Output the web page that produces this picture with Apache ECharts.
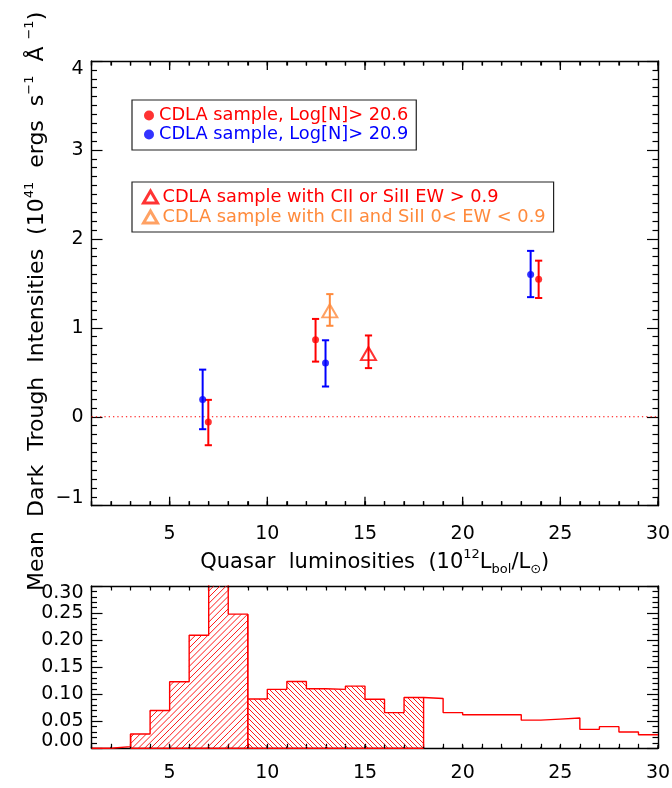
<!DOCTYPE html>
<html><head><meta charset="utf-8">
<script src="https://cdn.jsdelivr.net/npm/echarts@6/dist/echarts.min.js"></script>
<style>html,body{margin:0;padding:0;background:#fff}#c{width:672px;height:788px}</style>
</head><body><div id="c"></div>
<script>
const FONT = 'DejaVu Sans';
const RED = '#ff0000', BLUE = '#0000ff', ORANGE = '#ff8a3c';

// ---- top panel data ----
const S_RED = 'CDLA sample, Log[N]> 20.6';
const S_BLUE = 'CDLA sample, Log[N]> 20.9';
const S_TRI_RED = 'CDLA sample with CII or SiII EW > 0.9';
const S_TRI_OR = 'CDLA sample with CII and SiII 0< EW < 0.9';

const redLum  = [6.98, 12.47, 23.89];
const redMean = [-0.06, 0.865, 1.545];
const redLo   = [-0.32, 0.62, 1.335];
const redHi   = [0.19, 1.10, 1.755];

const blueLum  = [6.69, 12.98, 23.48];
const blueMean = [0.195, 0.605, 1.60];
const blueLo   = [-0.14, 0.34, 1.345];
const blueHi   = [0.53, 0.86, 1.865];

const triRedLum  = [15.18];
const triRedMean = [0.71];
const triRedLo   = [0.547];
const triRedHi   = [0.914];

const triOrLum  = [13.2];
const triOrMean = [1.19];
const triOrLo   = [1.023];
const triOrHi   = [1.379];

const zeroLineY = 0;

// ---- histogram data (bins of width 1 from x=1 to 30) ----
const binLeft  = [1,2,3,4,5,6,7,8,9,10,11,12,13,14,15,16,17,18,19,20,21,22,23,24,25,26,27,28,29];
const histFrac = [0, 0.003, 0.0265, 0.070, 0.123, 0.209, 0.32, 0.248, 0.091, 0.109, 0.1235, 0.110, 0.109, 0.115,
                  0.0906, 0.066, 0.094, 0.092, 0.066, 0.062, 0.062, 0.062, 0.052, 0.054, 0.056, 0.035, 0.040, 0.030, 0.025];
const hatchARange = [3, 9];   // "/" hatched
const hatchBRange = [9, 18];  // "\" hatched

// ---- axes / ticks ----
const xMin = 1, xMax = 30, xMinorStep = 1;
const xMajorTicks = [5, 10, 15, 20, 25, 30];
const topYMin = -1, topYMax = 4, topYStep = 1;
const histYMin = 0, histYMax = 0.30, histYStep = 0.05;
const TICKLEN = 0.02;   // x tick length as a fraction of the panel's y range (IDL style)

function range(a, b, step) {
  const out = []; const n = Math.round((b - a) / step);
  for (let i = 0; i <= n; i++) out.push(+(a + i * step).toFixed(6));
  return out;
}
const xMinorTicks = range(xMin, xMax, xMinorStep);

const lblBase = { color: '#000', fontFamily: FONT, fontSize: 19, showMinLabel: true, showMaxLabel: true, hideOverlap: false };

const richT = {
  sup: { fontFamily: FONT, fontSize: 13, verticalAlign: 'top', lineHeight: 28 },
  sub: { fontFamily: FONT, fontSize: 13, verticalAlign: 'bottom', lineHeight: 28 }
};

function xAxisFrame(grid, pos, labelOpt, extra) {
  return Object.assign({
    type: 'value', gridIndex: grid, position: pos, min: xMin, max: xMax, interval: xMinorStep,
    axisLine: { show: true, onZero: false, lineStyle: { color: '#000', width: 1.4 } },
    axisTick: { show: true, inside: true, length: 4.5, lineStyle: { color: '#000', width: 1.2 } },
    axisLabel: labelOpt ? Object.assign({ show: true, interval: 0,
      formatter: v => (xMajorTicks.indexOf(v) >= 0 ? String(v) : '') }, lblBase, labelOpt) : { show: false },
    splitLine: { show: false }
  }, extra || {});
}
function yAxisFrame(grid, pos, min, max, step, minorSplit, labelOpt, extra) {
  return Object.assign({
    type: 'value', gridIndex: grid, position: pos, min: min, max: max, interval: step,
    axisLine: { show: true, onZero: false, lineStyle: { color: '#000', width: 1.4 } },
    axisTick: { show: true, inside: true, length: 11, lineStyle: { color: '#000', width: 1.2 } },
    minorTick: { show: true, splitNumber: minorSplit, length: 5.5, lineStyle: { color: '#000', width: 1.2 } },
    axisLabel: labelOpt ? Object.assign({ show: true }, lblBase, labelOpt) : { show: false },
    splitLine: { show: false }, minorSplitLine: { show: false }
  }, extra || {});
}

const xAxes = [
  xAxisFrame(0, 'bottom', { margin: 19 }, {
    name: 'Quasar  luminosities  (10{sup|12}L{sub|bol}/L{sub|⊙})', nameLocation: 'middle', nameGap: 40,
    nameTextStyle: { fontFamily: FONT, fontSize: 21, color: '#000', lineHeight: 28, rich: richT }
  }),
  xAxisFrame(0, 'top', null),
  xAxisFrame(1, 'bottom', { margin: 15 }),
  xAxisFrame(1, 'top', null)
];
const yAxes = [
  yAxisFrame(0, 'left', topYMin, topYMax, topYStep, 10, {
    margin: 8, lineHeight: 16, formatter: v => String(v).replace('-', '\u2212'),
    verticalAlignMinLabel: 'bottom', verticalAlignMaxLabel: 'top'
  }, {
    name: 'Mean  Dark  Trough  Intensities  (10{sup|41}  ergs  s{sup|\u22121}  Å {sup|\u22121})',
    nameLocation: 'middle', nameRotate: 90, nameGap: 40, nameMoveOverlap: false,
    nameTextStyle: { fontFamily: FONT, fontSize: 22, color: '#000', lineHeight: 28, rich: richT, padding: [0, 36, 0, 0] }
  }),
  yAxisFrame(0, 'right', topYMin, topYMax, topYStep, 10, null),
  yAxisFrame(1, 'left', histYMin, histYMax, histYStep, 5, {
    margin: 8, lineHeight: 14, formatter: v => Number(v).toFixed(2),
    verticalAlignMinLabel: 'bottom', verticalAlignMaxLabel: 'top'
  }),
  yAxisFrame(1, 'right', histYMin, histYMax, histYStep, 5, null)
];

// x-axis tick marks (bottom and top frame, inward) as broken line segments built from the tick arrays
function xTickLine(xIdx, yIdx, ticks, lo, hi, frac) {
  const len = (hi - lo) * frac;
  const data = [];
  ticks.forEach(v => {
    data.push([v, lo], [v, lo + len], [v, '-'], [v, hi], [v, hi - len], [v, '-']);
  });
  return { type: 'line', name: 'xticks', xAxisIndex: xIdx, yAxisIndex: yIdx, data: data,
    symbol: 'none', showSymbol: false, silent: true, z: 6, connectNulls: false, clip: false,
    lineStyle: { color: '#000', width: 1.3 } };
}

function errSeries(name, xs, lo, hi, color) {
  return {
    type: 'custom', name: name, xAxisIndex: 0, yAxisIndex: 0, z: 3, silent: true,
    data: xs.map((x, i) => [x, lo[i], hi[i]]),
    encode: { x: 0, y: [1, 2] },
    renderItem: function (params, api) {
      const x = api.value(0);
      const p1 = api.coord([x, api.value(1)]), p2 = api.coord([x, api.value(2)]);
      const hw = 3.6;
      const st = { stroke: color, lineWidth: 2 };
      return { type: 'group', children: [
        { type: 'line', shape: { x1: p1[0], y1: p1[1], x2: p2[0], y2: p2[1] }, style: st },
        { type: 'line', shape: { x1: p1[0] - hw, y1: p1[1], x2: p1[0] + hw, y2: p1[1] }, style: st },
        { type: 'line', shape: { x1: p2[0] - hw, y1: p2[1], x2: p2[0] + hw, y2: p2[1] }, style: st }
      ] };
    }
  };
}

function hatchSegs(x0, x1, yTop, yBot, s, dir) {
  const segs = [];
  if (dir > 0) { // '/'  : x + y = c
    for (let c = Math.ceil((x0 + yTop) / s) * s; c <= x1 + yBot; c += s) {
      const xs = Math.max(x0, c - yBot), xe = Math.min(x1, c - yTop);
      if (xe > xs) segs.push([xs, c - xs, xe, c - xe]);
    }
  } else { // '\' : y = x - c
    for (let c = Math.ceil((x0 - yBot) / s) * s; c <= x1 - yTop; c += s) {
      const xs = Math.max(x0, yTop + c), xe = Math.min(x1, yBot + c);
      if (xe > xs) segs.push([xs, xs - c, xe, xe - c]);
    }
  }
  return segs;
}

function hatchSeries(rangeLR, spacing, dir) {
  const rows = [];
  binLeft.forEach((x, i) => {
    if (x >= rangeLR[0] && x + 1 <= rangeLR[1]) {
      rows.push([x, x + 1, histFrac[i], x === rangeLR[0] ? 1 : 0, x + 1 === rangeLR[1] ? 1 : 0]);
    }
  });
  return {
    type: 'custom', xAxisIndex: 2, yAxisIndex: 2, silent: true, z: 2, data: rows,
    encode: { x: [0, 1], y: 2 },
    renderItem: function (params, api) {
      const cs = params.coordSys;
      const a = api.coord([api.value(0), 0]), b = api.coord([api.value(1), api.value(2)]);
      const x0 = a[0], x1 = b[0], yBot = a[1], yTop = Math.max(b[1], cs.y);
      const thin = { stroke: RED, lineWidth: 0.9 };
      const edge = { stroke: RED, lineWidth: 1.4 };
      const children = hatchSegs(x0, x1, yTop, yBot, spacing, dir).map(s => ({
        type: 'line', shape: { x1: s[0], y1: s[1], x2: s[2], y2: s[3] }, style: thin }));
      children.push({ type: 'line', shape: { x1: x0, y1: yBot, x2: x1, y2: yBot }, style: edge });
      if (api.value(3)) children.push({ type: 'line', shape: { x1: x0, y1: yBot, x2: x0, y2: yTop }, style: edge });
      if (api.value(4)) children.push({ type: 'line', shape: { x1: x1, y1: yBot, x2: x1, y2: yTop }, style: edge });
      return { type: 'group', children: children };
    }
  };
}

const histStepData = binLeft.map((x, i) => [x, histFrac[i]]).concat([[xMax, histFrac[histFrac.length - 1]]]);

const gridBase = { outerBoundsMode: 'none', containLabel: false };
const chart = echarts.init(document.getElementById('c'), null, { renderer: 'canvas' });
chart.setOption({
  animation: false,
  backgroundColor: '#fff',
  textStyle: { fontFamily: FONT },
  grid: [
    Object.assign({ left: 91.5, top: 61, width: 566.5, height: 444.7 }, gridBase),
    Object.assign({ left: 91.5, top: 586, width: 566.5, height: 162.3 }, gridBase)
  ],
  xAxis: xAxes,
  yAxis: yAxes,
  legend: [
    { left: 132, top: 100, orient: 'vertical', selectedMode: false, borderColor: '#222', borderWidth: 1.2,
      backgroundColor: '#fff', padding: [6, 8, 6, 12], itemGap: 0, itemWidth: 10, itemHeight: 10,
      textStyle: { fontFamily: FONT, fontSize: 17.8, lineHeight: 19 },
      data: [
        { name: S_RED, icon: 'circle', itemStyle: { color: RED }, textStyle: { color: RED } },
        { name: S_BLUE, icon: 'circle', itemStyle: { color: BLUE }, textStyle: { color: BLUE } }
      ] },
    { left: 132, top: 182, orient: 'vertical', selectedMode: false, borderColor: '#222', borderWidth: 1.2,
      backgroundColor: '#fff', padding: [5, 8, 5, 10], itemGap: 0, itemWidth: 14, itemHeight: 12,
      textStyle: { fontFamily: FONT, fontSize: 17.8, lineHeight: 20 },
      data: [
        { name: S_TRI_RED, icon: 'triangle', itemStyle: { color: 'rgba(0,0,0,0)', borderColor: RED, borderWidth: 3 }, textStyle: { color: RED } },
        { name: S_TRI_OR, icon: 'triangle', itemStyle: { color: 'rgba(0,0,0,0)', borderColor: ORANGE, borderWidth: 3 }, textStyle: { color: ORANGE } }
      ] }
  ],
  series: [
    { type: 'line', name: 'zero', xAxisIndex: 0, yAxisIndex: 0, symbol: 'none', z: 1, silent: true,
      lineStyle: { color: RED, width: 1.1, type: [1.3, 3] },
      data: [[xMin, zeroLineY], [xMax, zeroLineY]] },
    errSeries('err-red', redLum, redLo, redHi, RED),
    errSeries('err-blue', blueLum, blueLo, blueHi, BLUE),
    errSeries('err-tri-red', triRedLum, triRedLo, triRedHi, RED),
    errSeries('err-tri-or', triOrLum, triOrLo, triOrHi, ORANGE),
    { type: 'scatter', name: S_RED, xAxisIndex: 0, yAxisIndex: 0, z: 5, symbol: 'circle', symbolSize: 7,
      itemStyle: { color: RED }, data: redLum.map((x, i) => [x, redMean[i]]) },
    { type: 'scatter', name: S_BLUE, xAxisIndex: 0, yAxisIndex: 0, z: 5, symbol: 'circle', symbolSize: 7,
      itemStyle: { color: BLUE }, data: blueLum.map((x, i) => [x, blueMean[i]]) },
    { type: 'scatter', name: S_TRI_RED, xAxisIndex: 0, yAxisIndex: 0, z: 5, symbol: 'triangle', symbolSize: [15, 13],
      itemStyle: { color: 'rgba(0,0,0,0)', borderColor: RED, borderWidth: 2 }, data: triRedLum.map((x, i) => [x, triRedMean[i]]) },
    { type: 'scatter', name: S_TRI_OR, xAxisIndex: 0, yAxisIndex: 0, z: 5, symbol: 'triangle', symbolSize: [15, 13],
      itemStyle: { color: 'rgba(0,0,0,0)', borderColor: ORANGE, borderWidth: 2 }, data: triOrLum.map((x, i) => [x, triOrMean[i]]) },
    hatchSeries(hatchARange, 6.2, 1),
    hatchSeries(hatchBRange, 5.0, -1),
    { type: 'line', name: 'hist', xAxisIndex: 2, yAxisIndex: 2, step: 'end', symbol: 'none', z: 3, clip: true,
      lineStyle: { color: RED, width: 1.4 }, data: histStepData },
    xTickLine(0, 0, xMinorTicks, topYMin, topYMax, TICKLEN / 2),
    xTickLine(0, 0, xMajorTicks, topYMin, topYMax, TICKLEN),
    xTickLine(2, 2, xMinorTicks, histYMin, histYMax, TICKLEN / 2),
    xTickLine(2, 2, xMajorTicks, histYMin, histYMax, TICKLEN)
  ]
});
</script>
</body></html>
